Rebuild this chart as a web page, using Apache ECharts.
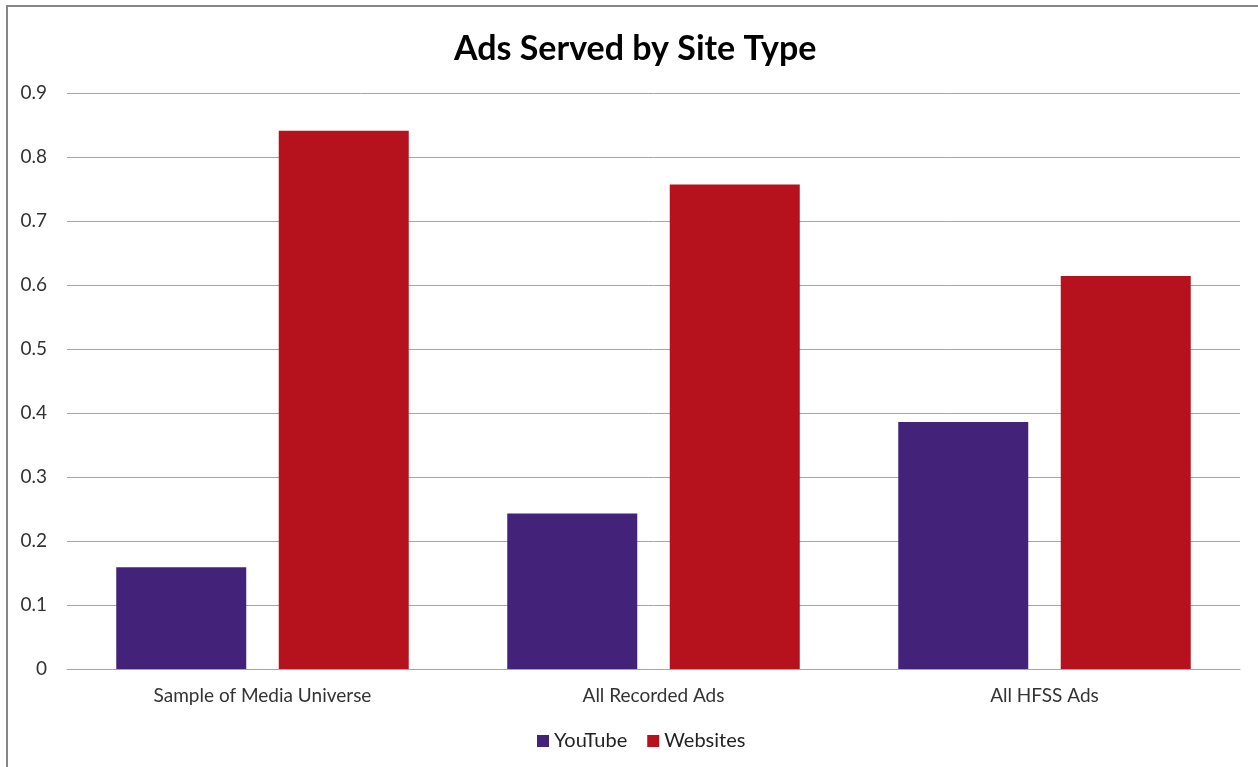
<!DOCTYPE html>
<html><head><meta charset="utf-8">
<script src="https://cdn.jsdelivr.net/npm/echarts@6/dist/echarts.min.js"></script>
<style>html,body{margin:0;padding:0;background:#fff;}#c{width:1258px;height:767px;}</style>
</head><body><div id="c"></div>
<script>
const categories = ["Sample of Media Universe", "All Recorded Ads", "All HFSS Ads"];
const youtube = [0.159, 0.243, 0.386];
const websites = [0.841, 0.757, 0.614];
const yTicks = [0, 0.1, 0.2, 0.3, 0.4, 0.5, 0.6, 0.7, 0.8, 0.9];

const chart = echarts.init(document.getElementById('c'), null, {renderer: 'canvas'});
const font = 'Lato, "Open Sans", sans-serif';
chart.setOption({
  animation: false,
  backgroundColor: '#fff',
  title: {
    text: 'Ads Served by Site Type', left: 449, top: 27,
    textStyle: {fontFamily: font, fontWeight: 'bold', fontSize: 34, color: '#000'}
  },
  graphic: [{
    type: 'rect', shape: {x: 7, y: 6, width: 1300, height: 800},
    style: {fill: 'none', stroke: '#878787', lineWidth: 2}, silent: true
  }],
  grid: {left: 67, right: 18, top: 93, bottom: 98, containLabel: false},
  legend: {
    bottom: 11, left: 532, itemWidth: 12, itemHeight: 12, itemGap: 20,
    icon: 'rect',
    textStyle: {fontFamily: font, fontSize: 20, color: '#222'},
    data: ['YouTube', 'Websites']
  },
  xAxis: {
    type: 'category', data: categories,
    axisLine: {show: true, lineStyle: {color: '#a6a6a6', width: 1}},
    axisTick: {show: false},
    axisLabel: {fontFamily: font, fontSize: 19, color: '#333', margin: 17}
  },
  yAxis: {
    type: 'value', min: 0, max: 0.9, interval: 0.1,
    axisLine: {show: false}, axisTick: {show: false},
    splitLine: {lineStyle: {color: '#a6a6a6', width: 1}},
    axisLabel: {fontFamily: font, fontSize: 19, color: '#333', margin: 20,
      formatter: v => { const t = yTicks.find(x => Math.abs(x - v) < 1e-9); return t === 0 ? '0' : String(+(t ?? v).toFixed(1)); }}
  },
  series: [
    {name: 'YouTube', type: 'bar', data: youtube, barWidth: 130, barGap: '25%',
     itemStyle: {color: '#43237A'}},
    {name: 'Websites', type: 'bar', data: websites, barWidth: 130,
     itemStyle: {color: '#B5121E'}}
  ]
});
</script></body></html>
